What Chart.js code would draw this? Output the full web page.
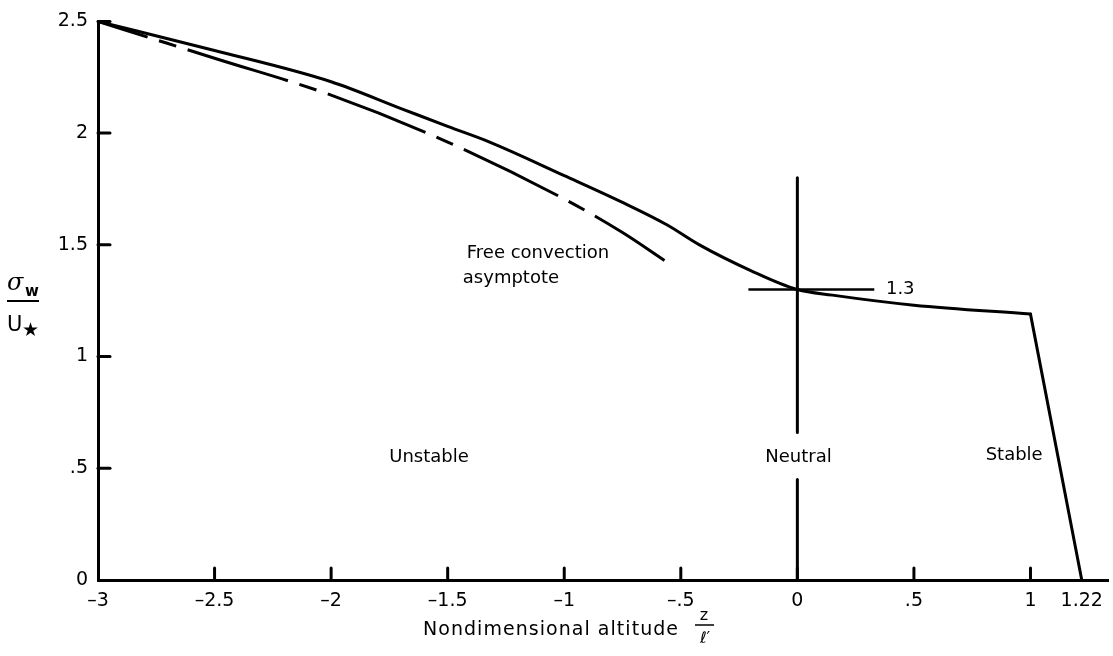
<!DOCTYPE html>
<html>
<head>
<meta charset="utf-8">
<script src="https://cdn.jsdelivr.net/npm/chart.js@4/dist/chart.umd.min.js"></script>
<style>
  html, body { margin: 0; padding: 0; background: #ffffff; }
  #wrap { width: 1113px; height: 656px; }
</style>
</head>
<body>
<div id="wrap"><canvas id="chart" width="1113" height="656"></canvas></div>
<script>
// Axis ticks
const xTickValues = [-3, -2.5, -2, -1.5, -1, -0.5, 0, 0.5, 1, 1.22];
const xTickLabels = ['–3', '–2.5', '–2', '–1.5', '–1', '–.5', '0', '.5', '1', '1.22'];
const yTickValues = [0, 0.5, 1, 1.5, 2, 2.5];
const yTickLabels = ['0', '.5', '1', '1.5', '2', '2.5'];

// sigma_w / U* profile against z / l'
const profileX = [-3, -2.5, -2, -1.7, -1.5, -1.32, -1, -0.75, -0.56, -0.42, -0.2, 0, 0.15, 0.5, 1];
const profileY = [2.5, 2.37, 2.23, 2.11, 2.03, 1.96, 1.81, 1.69, 1.59, 1.5, 1.385, 1.3, 1.275, 1.23, 1.19];

// Stable branch dropping to zero at z/l' = 1.22
const stableX = [1, 1.22];
const stableY = [1.19, 0];

// Free convection asymptote
const asymptoteX = [-3, -2.5, -2, -1.5, -1, -0.75, -0.57];
const asymptoteY = [2.5, 2.335, 2.17, 1.96, 1.705, 1.555, 1.43];

// Neutral line at z/l' = 0 (split around its label)
const neutralX = [0, 0];
const neutralUpperY = [1.8, 0.66];
const neutralLowerY = [0.45, 0];

// Marker at the neutral value 1.3
const markerX = [-0.21, 0.33];
const markerY = [1.3, 1.3];

const FONT = '"DejaVu Sans", "Liberation Sans", sans-serif';
const INK = '#000000';

function pts(xs, ys) { return xs.map((x, i) => ({ x: x, y: ys[i] })); }

function lineSet(label, data, extra) {
  return Object.assign({
    label: label,
    data: data,
    showLine: true,
    borderColor: INK,
    borderWidth: 3,
    pointRadius: 0,
    pointHoverRadius: 0,
    fill: false,
    tension: 0,
    borderCapStyle: 'round',
    borderJoinStyle: 'round'
  }, extra || {});
}

// Inward tick marks, in-plot labels and the two fraction-style axis titles
const decorations = {
  id: 'decorations',
  afterDraw(chart) {
    const ctx = chart.ctx;
    const xs = chart.scales.x, ys = chart.scales.y;
    const area = chart.chartArea;
    ctx.save();
    ctx.strokeStyle = INK;
    ctx.fillStyle = INK;

    // tick marks pointing into the plot
    ctx.lineWidth = 3;
    ctx.lineCap = 'round';
    xTickValues.forEach(v => {
      if (v <= -3 || v > 1) return;
      const px = xs.getPixelForValue(v);
      ctx.beginPath();
      ctx.moveTo(px, area.bottom);
      ctx.lineTo(px, area.bottom - 12);
      ctx.stroke();
    });
    yTickValues.forEach(v => {
      if (v <= 0) return;
      const py = ys.getPixelForValue(v);
      ctx.beginPath();
      ctx.moveTo(area.left, py);
      ctx.lineTo(area.left + 12, py);
      ctx.stroke();
    });

    // labels inside the plot
    ctx.font = '18px ' + FONT;
    ctx.textBaseline = 'middle';
    const put = (text, x, y, align) => {
      ctx.textAlign = align;
      ctx.fillText(text, xs.getPixelForValue(x), ys.getPixelForValue(y));
    };
    put('Free convection', -1.418, 1.46, 'left');
    put('asymptote', -1.435, 1.348, 'left');
    put('Unstable', -1.58, 0.55, 'center');
    put('Neutral', 0.005, 0.55, 'center');
    put('Stable', 0.93, 0.558, 'center');
    put('1.3', 0.38, 1.3, 'left');

    // y title: sigma_w over U*
    ctx.textBaseline = 'alphabetic';
    ctx.textAlign = 'left';
    ctx.font = 'italic 24px "DejaVu Serif", "Liberation Serif", serif';
    ctx.fillText('σ', 7, 290);
    ctx.font = 'bold 15px ' + FONT;
    ctx.fillText('w', 25, 296);
    ctx.lineWidth = 2;
    ctx.lineCap = 'butt';
    ctx.beginPath();
    ctx.moveTo(7, 301);
    ctx.lineTo(39, 301);
    ctx.stroke();
    ctx.font = '21px ' + FONT;
    ctx.fillText('U', 7, 331);
    ctx.font = '19px ' + FONT;
    ctx.fillText('★', 22, 336);

    // x title with z over l'
    ctx.font = '19px ' + FONT;
    const title = 'Nondimensional altitude';
    const target = 255;
    const natural = ctx.measureText(title).width;
    const gap = (target - natural) / (title.length - 1);
    let cx = 423;
    for (const ch of title) {
      ctx.fillText(ch, cx, 635);
      cx += ctx.measureText(ch).width + gap;
    }
    ctx.textAlign = 'center';
    ctx.font = '16px ' + FONT;
    ctx.fillText('z', 704, 620);
    ctx.lineWidth = 1.5;
    ctx.beginPath();
    ctx.moveTo(695, 625);
    ctx.lineTo(714, 625);
    ctx.stroke();
    ctx.font = '16px ' + FONT;
    ctx.fillText('ℓ′', 705, 643);
    ctx.restore();
  }
};

new Chart(document.getElementById('chart'), {
  type: 'scatter',
  data: {
    datasets: [
      lineSet('Profile', pts(profileX, profileY), { cubicInterpolationMode: 'monotone' }),
      lineSet('Stable', pts(stableX, stableY)),
      lineSet('Free convection asymptote', pts(asymptoteX, asymptoteY), {
        cubicInterpolationMode: 'monotone',
        borderDash: [105, 12, 18, 12],
        borderDashOffset: 53,
        borderCapStyle: 'butt'
      }),
      lineSet('Neutral upper', pts(neutralX, neutralUpperY), { borderCapStyle: 'butt' }),
      lineSet('Neutral lower', pts(neutralX, neutralLowerY), { borderCapStyle: 'butt' }),
      lineSet('1.3', pts(markerX, markerY), { borderWidth: 2.5, borderCapStyle: 'butt' })
    ]
  },
  options: {
    responsive: false,
    animation: false,
    devicePixelRatio: 1,
    layout: { padding: { left: 0, top: 20, right: 3, bottom: 0 } },
    plugins: {
      legend: { display: false },
      tooltip: { enabled: false },
      title: { display: false }
    },
    scales: {
      x: {
        type: 'linear',
        min: -3,
        max: 1.335,
        afterBuildTicks(scale) { scale.ticks = xTickValues.map(v => ({ value: v })); },
        afterFit(scale) { scale.height = 76; },
        grid: { display: true, drawOnChartArea: false, drawTicks: false },
        border: { display: true, color: INK, width: 3 },
        ticks: {
          autoSkip: false,
          maxRotation: 0,
          padding: 10,
          color: INK,
          font: { family: FONT, size: 19 },
          callback(value, index) { return xTickLabels[index]; }
        }
      },
      y: {
        type: 'linear',
        min: 0,
        max: 2.5,
        afterBuildTicks(scale) { scale.ticks = yTickValues.map(v => ({ value: v })); },
        afterFit(scale) { scale.width = 98; },
        grid: { display: true, drawOnChartArea: false, drawTicks: false },
        border: { display: true, color: INK, width: 3 },
        ticks: {
          autoSkip: false,
          padding: 10,
          color: INK,
          font: { family: FONT, size: 19 },
          callback(value, index) { return yTickLabels[index]; }
        }
      }
    }
  },
  plugins: [decorations]
});
</script>
</body>
</html>
